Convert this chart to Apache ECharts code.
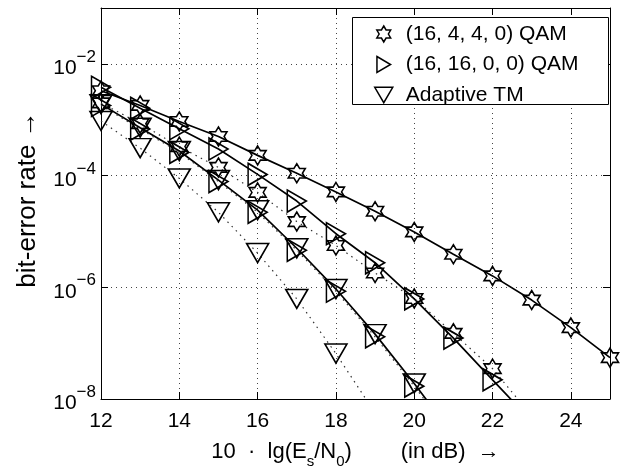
<!DOCTYPE html>
<html>
<head>
<meta charset="utf-8">
<script src="https://cdn.jsdelivr.net/npm/echarts@6/dist/echarts.min.js"></script>
<style>html,body{margin:0;padding:0;background:#fff;}#c{width:621px;height:474px;}</style>
</head>
<body>
<div id="c"></div>
<script>
// ---- data ----
const snrDb = [12, 13, 14, 15, 16, 17, 18, 19, 20, 21, 22, 23, 24, 25];
const legendNames = ['(16, 4, 4, 0) QAM', '(16, 16, 0, 0) QAM', 'Adaptive TM'];
// solid curves
const berQam4440 = [3.3e-3, 1.8e-3, 9.3e-4, 5.0e-4, 2.3e-4, 1.1e-4, 5.1e-5, 2.3e-5, 9.8e-6, 3.9e-6, 1.6e-6, 5.9e-7, 1.9e-7, 5.5e-8];
const berQam16000 = [3.8e-3, 1.6e-3, 6.9e-4, 3.0e-4, 1.05e-4, 3.5e-5, 9.1e-6, 2.75e-6, 6.2e-7, 1.23e-7, 2.2e-8, 4.0e-9];
const berAdaptive = [1.9e-3, 7.2e-4, 2.75e-4, 8.3e-5, 2.4e-5, 5.0e-6, 9.3e-7, 1.45e-7, 1.9e-8, 2.2e-9];
// dotted curves
const berQam4440Dot = [2.0e-3, 8.5e-4, 3.3e-4, 1.4e-4, 5.0e-5, 1.5e-5, 5.6e-6, 1.8e-6, 6.3e-7, 1.5e-7, 3.5e-8, 5.0e-9];
const berQam16000Dot = [1.8e-3, 6.8e-4, 2.6e-4, 7.8e-5, 2.2e-5, 4.6e-6, 8.5e-7, 1.3e-7, 1.7e-8, 2.0e-9];
const berAdaptiveDot = [9.5e-4, 3.1e-4, 8.9e-5, 2.2e-5, 4.1e-6, 6.2e-7, 6.5e-8, 5.6e-9];

const FONT = 'Liberation Sans';
const STAR = 'path://M10,0L12.887,5L18.66,5L15.774,10L18.66,15L12.887,15L10,20L7.113,15L1.34,15L4.226,10L1.34,5L7.113,5Z';
const TRI_R = 'path://M0,0L17,10L0,20Z';
const TRI_D = 'path://M0,0L20,0L10,17Z';

function pairs(vals) { return vals.map((v, i) => [snrDb[i], v]); }
const markerStyle = { color: 'rgba(0,0,0,0)', borderColor: '#000', borderWidth: 1.6 };
function mk(name, vals, symbol, size, dotted) {
  return {
    type: 'line', name: name, data: pairs(vals),
    symbol: symbol, symbolSize: size, showAllSymbol: true,
    itemStyle: markerStyle,
    lineStyle: dotted ? { color: '#333', width: 1.2, type: [1.5, 4.5] } : { color: '#000', width: 1.7, type: 'solid' },
    clip: true, z: 3
  };
}

const chart = echarts.init(document.getElementById('c'));
chart.setOption({
  animation: false,
  backgroundColor: '#fff',
  grid: { left: 101, right: 11, top: 8, bottom: 64 },
  xAxis: [{
    type: 'value', min: 12, max: 25, interval: 2,
    axisLine: { show: true, lineStyle: { color: '#000', width: 1 } },
    axisTick: { inside: true, length: 7, lineStyle: { color: '#000' } },
    axisLabel: { fontSize: 21, fontFamily: FONT, color: '#000', margin: 12,
      formatter: v => (v <= 24 ? String(v) : '') },
    splitLine: { show: true, lineStyle: { color: '#444', width: 1, type: [1, 4] } },
    name: '{t|10  ·  lg(E}{sub|s}{t|/N}{sub|0}{t|)        (in dB)  →}',
    nameLocation: 'middle', nameGap: 42,
    nameTextStyle: { fontFamily: FONT, color: '#000',
      rich: {
        t: { fontSize: 22, fontFamily: FONT, color: '#000', lineHeight: 28, verticalAlign: 'top' },
        sub: { fontSize: 15, fontFamily: FONT, color: '#000', lineHeight: 28, verticalAlign: 'bottom' }
      } }
  }, {
    type: 'value', min: 12, max: 25, interval: 2, position: 'top',
    axisLine: { show: true, lineStyle: { color: '#000', width: 1 } },
    axisTick: { inside: true, length: 7, lineStyle: { color: '#000' } },
    axisLabel: { show: false }, splitLine: { show: false }
  }],
  yAxis: [{
    type: 'log', logBase: 10, min: 1e-8, max: 1e-1, interval: 2,
    axisLine: { show: true, lineStyle: { color: '#000', width: 1 } },
    axisTick: { inside: true, length: 7, lineStyle: { color: '#000' } },
    axisLabel: { margin: 5, color: '#000',
      formatter: v => {
        const e = Math.round(Math.log10(v));
        if (e > -2 || e % 2 !== 0) return '';
        return '{b|10}{s|−' + Math.abs(e) + '}';
      },
      rich: {
        b: { fontSize: 21, fontFamily: FONT, color: '#000', lineHeight: 30, verticalAlign: 'bottom' },
        s: { fontSize: 17, fontFamily: FONT, color: '#000', lineHeight: 30, verticalAlign: 'top' }
      } },
    splitLine: { show: true, lineStyle: { color: '#444', width: 1, type: [1, 4] } },
    name: 'bit-error rate →', nameLocation: 'middle', nameGap: 60, nameRotate: 90,
    nameTextStyle: { fontSize: 26, fontFamily: FONT, color: '#000', padding: [0, 0, 0, 8] }
  }, {
    type: 'log', logBase: 10, min: 1e-8, max: 1e-1, interval: 2, position: 'right',
    axisLine: { show: true, lineStyle: { color: '#000', width: 1 } },
    axisTick: { inside: true, length: 7, lineStyle: { color: '#000' } },
    axisLabel: { show: false }, splitLine: { show: false }
  }],
  graphic: [{
    type: 'rect', left: 352, top: 17, z: 10,
    shape: { width: 256, height: 87 },
    style: { fill: '#fff', stroke: '#000', lineWidth: 1 }
  }],
  legend: {
    orient: 'vertical', left: 374, top: 23, padding: 0, z: 20,
    itemWidth: 18, itemHeight: 16, itemGap: 8.5,
    textStyle: { fontSize: 21, fontFamily: FONT, color: '#000', lineHeight: 22, padding: [0, 0, 0, 8] },
    itemStyle: { color: 'rgba(0,0,0,0)', borderColor: '#000', borderWidth: 1.5 },
    data: [
      { name: legendNames[0], icon: STAR },
      { name: legendNames[1], icon: TRI_R },
      { name: legendNames[2], icon: TRI_D }
    ]
  },
  series: [
    mk(legendNames[0], berQam4440, STAR, [17, 19], false),
    mk(legendNames[1], berQam16000, TRI_R, [19, 22], false),
    mk(legendNames[2], berAdaptive, TRI_D, [22, 19], false),
    mk(legendNames[0], berQam4440Dot, STAR, [17, 19], true),
    mk(legendNames[1], berQam16000Dot, TRI_R, [19, 22], true),
    mk(legendNames[2], berAdaptiveDot, TRI_D, [22, 19], true)
  ]
});
</script>
</body>
</html>
